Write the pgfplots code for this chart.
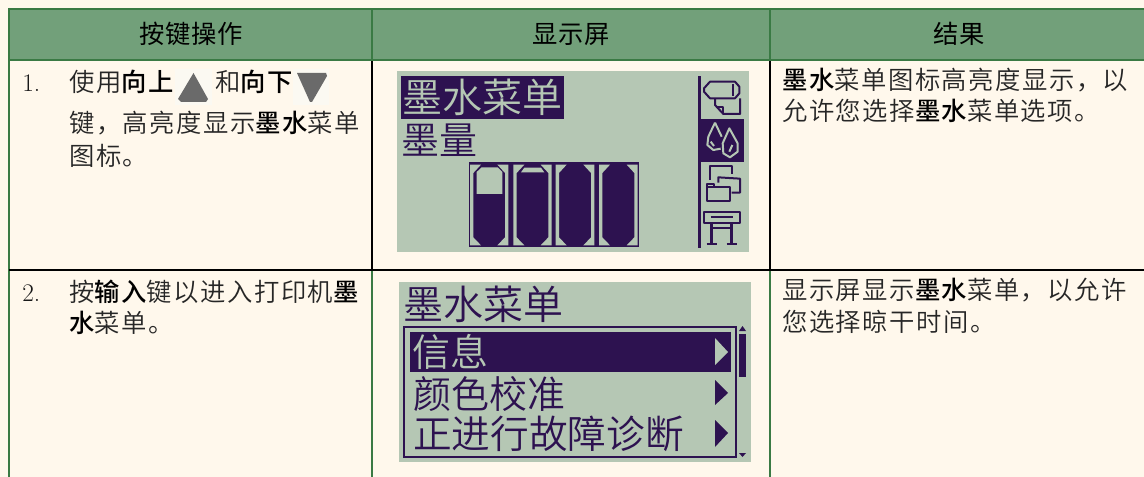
\documentclass[border=0pt]{standalone}
\usepackage{fontspec}
\usepackage{pgfplots}
\pgfplotsset{compat=1.18}
\newfontfamily\zhl{Noto Sans CJK SC DemiLight}
\newfontfamily\zhls[LetterSpace=6]{Noto Sans CJK SC DemiLight}
\newfontfamily\zhbs[LetterSpace=6]{Noto Sans CJK SC Medium}
\newfontfamily\zhh[LetterSpace=3]{Noto Sans CJK SC}
\definecolor{bg}{HTML}{FFF8EC}
\definecolor{hd}{HTML}{72A07A}
\definecolor{gl}{HTML}{3A7A44}
\definecolor{lcd}{HTML}{B5C7B4}
\definecolor{ink}{HTML}{2D1250}
\definecolor{bx}{HTML}{FBF9F2}
\definecolor{tri}{HTML}{6A6A6A}
\newcommand\B[1]{{\zhbs\color{black}#1}}
\pgfplotsset{
  zo/.style 2 args={x filter/.expression={#1+x/3},y filter/.expression={#2+y/3}},
  box/.style={fill=#1,draw=none,forget plot},
  ln/.style={draw=#1,line width=1.5pt,forget plot},
  ic/.style={draw=#1,line width=1.5pt,forget plot,line join=round},
}
\tikzset{
  body/.style={anchor=base west,inner sep=0pt,font=\fontsize{19pt}{19pt}\zhls,text=black!85},
  num/.style={anchor=base west,inner sep=0pt,font=\fontsize{19pt}{19pt}\rmfamily,text=black!90},
  head/.style={anchor=base,inner sep=0pt,font=\fontsize{19pt}{19pt}\zhh,text=black},
  lcdt/.style={anchor=base west,inner sep=0pt,text=ink},
}
\begin{document}
\begin{tikzpicture}
\begin{axis}[
  scale only axis,width=858pt,height=357.75pt,
  xmin=0,xmax=1144,ymin=0,ymax=477,y dir=reverse,hide axis,clip=true]
% page and header
\addplot[box=bg] coordinates {(0,0)(1144,0)(1144,477)(0,477)} --cycle;
\addplot[box=hd] coordinates {(9,9)(1144,9)(1144,60)(9,60)} --cycle;
% rules
\addplot[ln=gl] coordinates {(9,9)(1144,9)};
\addplot[ln=gl] coordinates {(9,60)(1144,60)};
\addplot[ln=gl] coordinates {(9,8)(9,477)};
\addplot[ln=gl] coordinates {(372,9)(372,60)};
\addplot[ln=gl] coordinates {(770,9)(770,60)};
\addplot[ln=black] coordinates {(372,61)(372,270)};
\addplot[ln=black] coordinates {(770,61)(770,270)};
\addplot[ln=gl] coordinates {(372,271)(372,477)};
\addplot[ln=gl] coordinates {(770,271)(770,477)};
\addplot[ln=black] coordinates {(9,270)(1144,270)};
% button icons
\addplot[box=bx] coordinates {(175,69)(212,69)(212,105)(175,105)} --cycle;
\addplot[box=bx] coordinates {(293,69)(329,69)(329,105)(293,105)} --cycle;
\addplot[box=tri] coordinates {(193.5,73)(208,99)(206,102)(181,102)(178,99)} --cycle;
\addplot[box=tri] coordinates {(297,73)(326,73)(327,76)(312,102)(310,102)} --cycle;
% LCD 1
\addplot[box=lcd] coordinates {(397,71)(749,71)(749,252)(397,252)} --cycle;
\addplot[box=ink] coordinates {(401,76)(564,76)(564,119)(401,119)} --cycle;
% ink frame
\addplot[box=ink,zo={465}{158}] coordinates {(12,12)(522,12)(522,268)(12,268)} --cycle;
% cartridge 1 strips
\addplot[box=lcd,zo={465}{158}] coordinates {(15,20)(48,20)(25,45)(25,238)(48,262)(15,262)} --cycle;
\addplot[box=lcd,zo={465}{158}] coordinates {(130,20)(97,20)(120,45)(120,238)(97,262)(130,262)} --cycle;
% cartridge 2 strips
\addplot[box=lcd,zo={465}{158}] coordinates {(145,20)(178,20)(155,45)(155,238)(178,262)(145,262)} --cycle;
\addplot[box=lcd,zo={465}{158}] coordinates {(260,20)(227,20)(250,45)(250,238)(227,262)(260,262)} --cycle;
% cartridge 3 strips
\addplot[box=lcd,zo={465}{158}] coordinates {(272,20)(305,20)(282,45)(282,238)(305,262)(272,262)} --cycle;
\addplot[box=lcd,zo={465}{158}] coordinates {(388,20)(355,20)(378,45)(378,238)(355,262)(388,262)} --cycle;
% cartridge 4 strips
\addplot[box=lcd,zo={465}{158}] coordinates {(402,20)(435,20)(412,45)(412,238)(435,262)(402,262)} --cycle;
\addplot[box=lcd,zo={465}{158}] coordinates {(518,20)(485,20)(508,45)(508,238)(485,262)(518,262)} --cycle;
% ink left in cartridges 1 and 2
\addplot[box=lcd,zo={465}{158}] coordinates {(50,28)(98,28)(112,42)(112,108)(35,108)(35,42)} --cycle;
\addplot[box=lcd,zo={465}{158}] coordinates {(178,29)(228,29)(238,43)(168,43)} --cycle;
% side bar
\addplot[box=ink] coordinates {(698,76)(700.6,76)(700.6,248)(698,248)} --cycle;
\addplot[box=ink] coordinates {(698,119.5)(744,119.5)(744,162)(698,162)} --cycle;
% roll icon
\addplot[ic=ink,zo={690}{70}] coordinates {(42,55)(60,35)(135,35)(148,50)(148,70)(135,85)(60,85)(42,65)} --cycle;
\addplot[ic=ink,zo={690}{70}] coordinates {(128,42)(128,78)};
\addplot[ic=ink,zo={690}{70}] coordinates {(75,85)(75,105)(100,132)(150,132)(150,85)};
\addplot[ic=ink,zo={690}{70}] coordinates {(80,112)(100,112)(100,132)};
% drops icon
\addplot[ic=lcd,zo={690}{70}] coordinates {(75,158)(55,200)(52,225)(70,240)(92,236)};
\addplot[ic=lcd,zo={690}{70}] coordinates {(75,158)(95,200)};
\addplot[ic=lcd,zo={690}{70}] coordinates {(118,175)(98,220)(100,250)(120,262)(143,245)(143,220)} --cycle;
\addplot[ic=lcd,zo={690}{70}] coordinates {(127,225)(118,245)};
\addplot[ic=lcd,zo={690}{70}] coordinates {(62,215)(72,228)};
% folder icon
\addplot[ic=ink,zo={690}{160}] coordinates {(60,60)(60,18)(125,18)(125,42)};
\addplot[ic=ink,zo={690}{160}] coordinates {(85,68)(85,52)(150,56)(150,98)(125,98)};
\addplot[ic=ink,zo={690}{160}] coordinates {(52,80)(120,80)(120,122)(52,122)} --cycle;
\addplot[ic=ink,zo={690}{160}] coordinates {(52,80)(52,72)(72,72)(72,80)};
% plotter icon
\addplot[ic=ink,zo={690}{160}] coordinates {(42,155)(150,155)(150,188)(42,188)} --cycle;
\addplot[ic=ink,zo={690}{160}] coordinates {(62,171)(130,171)};
\addplot[ic=ink,line width=2pt,zo={690}{160}] coordinates {(65,188)(65,250)};
\addplot[ic=ink,line width=2pt,zo={690}{160}] coordinates {(125,188)(125,250)};
\addplot[ic=ink,zo={690}{160}] coordinates {(65,205)(125,205)};
\addplot[ic=ink,zo={690}{160}] coordinates {(50,252)(80,252)};
\addplot[ic=ink,zo={690}{160}] coordinates {(110,252)(140,252)};
% LCD 2
\addplot[box=lcd] coordinates {(399,282)(751,282)(751,462)(399,462)} --cycle;
\addplot[draw=ink,line width=1.2pt,forget plot] coordinates {(404,327)(736,327)(736,457)(404,457)} --cycle;
\addplot[box=ink] coordinates {(410,332)(731,332)(731,372)(410,372)} --cycle;
\addplot[box=lcd] coordinates {(715,338)(728,352)(715,365)} --cycle;
\addplot[box=ink] coordinates {(715,380)(728,393)(715,405)} --cycle;
\addplot[box=ink] coordinates {(715,420)(728,433)(715,447)} --cycle;
\addplot[box=ink] coordinates {(739,334)(746,334)(746,377)(739,377)} --cycle;
\addplot[box=ink] coordinates {(742.5,326)(746,331)(739,331)} --cycle;
\addplot[box=ink] coordinates {(739,453)(746,453)(742.5,457)} --cycle;
% header text
\node[head] at (axis cs:191,44) {按键操作};
\node[head] at (axis cs:571,44) {显示屏};
\node[head] at (axis cs:959,44) {结果};
% column 1
\node[num] at (axis cs:22,92) {1.};
\node[body] at (axis cs:69,92) {使用\B{向上}};
\node[body] at (axis cs:215,92) {和\B{向下}};
\node[body] at (axis cs:69,133) {键，高亮度显示\B{墨水}菜单};
\node[body] at (axis cs:69,166) {图标。};
\node[num] at (axis cs:22,301) {2.};
\node[body] at (axis cs:69,301) {按\B{输入}键以进入打印机\B{墨}};
\node[body] at (axis cs:69,332) {\B{水}菜单。};
% column 3
\node[body] at (axis cs:782,90) {\B{墨水}菜单图标高亮度显示，以};
\node[body] at (axis cs:782,121) {允许您选择\B{墨水}菜单选项。};
\node[body] at (axis cs:782,299) {显示屏显示\B{墨水}菜单，以允许};
\node[body] at (axis cs:782,331) {您选择晾干时间。};
% LCD text
\node[lcdt,text=lcd,font=\fontsize{30pt}{30pt}\zhl] at (axis cs:402,113) {墨水菜单};
\node[lcdt,font=\fontsize{28.5pt}{28.5pt}\zhl] at (axis cs:401,155) {墨量};
\node[lcdt,font=\fontsize{30pt}{30pt}\zhl] at (axis cs:403,319) {墨水菜单};
\node[lcdt,text=lcd,font=\fontsize{28.5pt}{28.5pt}\zhl] at (axis cs:412,366) {信息};
\node[lcdt,font=\fontsize{28.5pt}{28.5pt}\zhl] at (axis cs:413,408) {颜色校准};
\node[lcdt,font=\fontsize{29pt}{29pt}\zhl] at (axis cs:413,448) {正进行故障诊断};
\end{axis}
\end{tikzpicture}
\end{document}
